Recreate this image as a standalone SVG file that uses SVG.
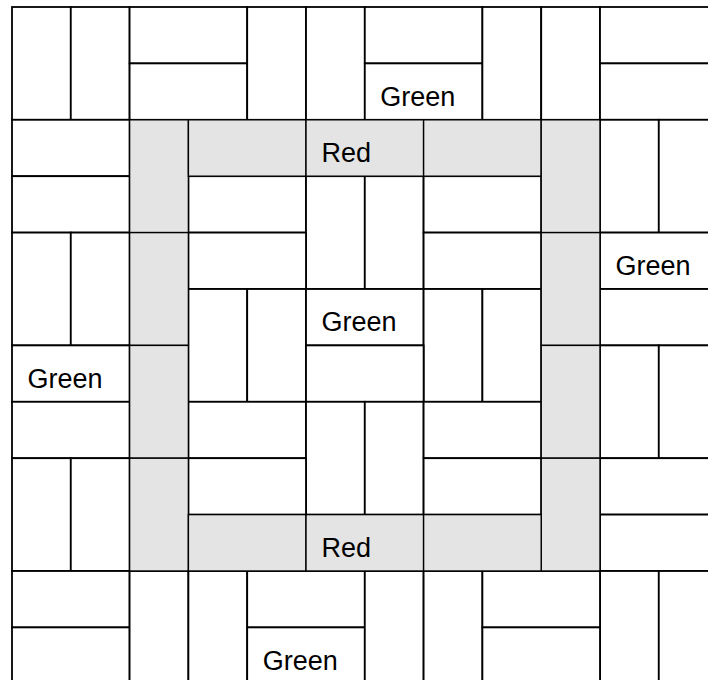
<svg xmlns="http://www.w3.org/2000/svg" width="708" height="680" viewBox="0 0 708 680">
<style>
.w{fill:#ffffff;stroke:#000000;stroke-width:1.8}
.g{fill:#e4e4e4;stroke:#000000;stroke-width:1.4}
text{font-family:"Liberation Sans",Arial,sans-serif;font-size:27px;fill:#000000}
</style>
<rect x="0" y="0" width="708" height="680" fill="#ffffff"/>
<g id="tiles-white">
<g id="t-0-0"><rect class="w" x="12" y="7" width="58.8" height="112.8"/></g>
<g id="t-1-0"><rect class="w" x="70.8" y="7" width="58.8" height="112.8"/></g>
<g id="t-2-0"><rect class="w" x="129.6" y="7" width="117.6" height="56.4"/></g>
<g id="t-2-1"><rect class="w" x="129.6" y="63.4" width="117.6" height="56.4"/></g>
<g id="t-4-0"><rect class="w" x="247.2" y="7" width="58.8" height="112.8"/></g>
<g id="t-5-0"><rect class="w" x="306" y="7" width="58.8" height="112.8"/></g>
<g id="t-6-0"><rect class="w" x="364.8" y="7" width="117.6" height="56.4"/></g>
<g id="t-6-1"><rect class="w" x="364.8" y="63.4" width="117.6" height="56.4"/><text x="380.3" y="106">Green</text></g>
<g id="t-8-0"><rect class="w" x="482.4" y="7" width="58.8" height="112.8"/></g>
<g id="t-9-0"><rect class="w" x="541.2" y="7" width="58.8" height="112.8"/></g>
<g id="t-10-0"><rect class="w" x="600" y="7" width="117.6" height="56.4"/></g>
<g id="t-10-1"><rect class="w" x="600" y="63.4" width="117.6" height="56.4"/></g>

<g id="t-0-2"><rect class="w" x="12" y="119.8" width="117.6" height="56.4"/></g>
<g id="t-0-3"><rect class="w" x="12" y="176.2" width="117.6" height="56.4"/></g>
<g id="t-0-4"><rect class="w" x="12" y="232.6" width="58.8" height="112.8"/></g>
<g id="t-1-4"><rect class="w" x="70.8" y="232.6" width="58.8" height="112.8"/></g>
<g id="t-0-6"><rect class="w" x="12" y="345.4" width="117.6" height="56.4"/><text x="27.5" y="387.8">Green</text></g>
<g id="t-0-7"><rect class="w" x="12" y="401.8" width="117.6" height="56.4"/></g>
<g id="t-0-8"><rect class="w" x="12" y="458.2" width="58.8" height="112.8"/></g>
<g id="t-1-8"><rect class="w" x="70.8" y="458.2" width="58.8" height="112.8"/></g>
<g id="t-0-10"><rect class="w" x="12" y="571" width="117.6" height="56.4"/></g>
<g id="t-0-11"><rect class="w" x="12" y="627.4" width="117.6" height="56.4"/></g>

<g id="t-10-2"><rect class="w" x="600" y="119.8" width="58.8" height="112.8"/></g>
<g id="t-11-2"><rect class="w" x="658.8" y="119.8" width="58.8" height="112.8"/></g>
<g id="t-10-4"><rect class="w" x="600" y="232.6" width="117.6" height="56.4"/><text x="615.5" y="275.2">Green</text></g>
<g id="t-10-5"><rect class="w" x="600" y="289" width="117.6" height="56.4"/></g>
<g id="t-10-6"><rect class="w" x="600" y="345.4" width="58.8" height="112.8"/></g>
<g id="t-11-6"><rect class="w" x="658.8" y="345.4" width="58.8" height="112.8"/></g>
<g id="t-10-8"><rect class="w" x="600" y="458.2" width="117.6" height="56.4"/></g>
<g id="t-10-9"><rect class="w" x="600" y="514.6" width="117.6" height="56.4"/></g>
<g id="t-10-10"><rect class="w" x="600" y="571" width="58.8" height="112.8"/></g>
<g id="t-11-10"><rect class="w" x="658.8" y="571" width="58.8" height="112.8"/></g>

<g id="t-2-10"><rect class="w" x="129.6" y="571" width="58.8" height="112.8"/></g>
<g id="t-3-10"><rect class="w" x="188.4" y="571" width="58.8" height="112.8"/></g>
<g id="t-4-10"><rect class="w" x="247.2" y="571" width="117.6" height="56.4"/></g>
<g id="t-4-11"><rect class="w" x="247.2" y="627.4" width="117.6" height="56.4"/><text x="262.7" y="670">Green</text></g>
<g id="t-6-10"><rect class="w" x="364.8" y="571" width="58.8" height="112.8"/></g>
<g id="t-7-10"><rect class="w" x="423.6" y="571" width="58.8" height="112.8"/></g>
<g id="t-8-10"><rect class="w" x="482.4" y="571" width="117.6" height="56.4"/></g>
<g id="t-8-11"><rect class="w" x="482.4" y="627.4" width="117.6" height="56.4"/></g>

<g id="t-3-3"><rect class="w" x="188.4" y="176.2" width="117.6" height="56.4"/></g>
<g id="t-5-3"><rect class="w" x="306" y="176.2" width="58.8" height="112.8"/></g>
<g id="t-6-3"><rect class="w" x="364.8" y="176.2" width="58.8" height="112.8"/></g>
<g id="t-7-3"><rect class="w" x="423.6" y="176.2" width="117.6" height="56.4"/></g>
<g id="t-3-4"><rect class="w" x="188.4" y="232.6" width="117.6" height="56.4"/></g>
<g id="t-7-4"><rect class="w" x="423.6" y="232.6" width="117.6" height="56.4"/></g>
<g id="t-3-5"><rect class="w" x="188.4" y="289" width="58.8" height="112.8"/></g>
<g id="t-4-5"><rect class="w" x="247.2" y="289" width="58.8" height="112.8"/></g>
<g id="t-5-5"><rect class="w" x="306" y="289" width="117.6" height="56.4"/><text x="321.5" y="331">Green</text></g>
<g id="t-7-5"><rect class="w" x="423.6" y="289" width="58.8" height="112.8"/></g>
<g id="t-8-5"><rect class="w" x="482.4" y="289" width="58.8" height="112.8"/></g>
<g id="t-5-6"><rect class="w" x="306" y="345.4" width="117.6" height="56.4"/></g>
<g id="t-3-7"><rect class="w" x="188.4" y="401.8" width="117.6" height="56.4"/></g>
<g id="t-5-7"><rect class="w" x="306" y="401.8" width="58.8" height="112.8"/></g>
<g id="t-6-7"><rect class="w" x="364.8" y="401.8" width="58.8" height="112.8"/></g>
<g id="t-7-7"><rect class="w" x="423.6" y="401.8" width="117.6" height="56.4"/></g>
<g id="t-3-8"><rect class="w" x="188.4" y="458.2" width="117.6" height="56.4"/></g>
<g id="t-7-8"><rect class="w" x="423.6" y="458.2" width="117.6" height="56.4"/></g>
</g>
<g id="tiles-grey">
<g id="t-2-2"><rect class="g" x="129.6" y="119.8" width="58.8" height="112.8"/></g>
<g id="t-3-2"><rect class="g" x="188.4" y="119.8" width="117.6" height="56.4"/></g>
<g id="t-5-2"><rect class="g" x="306" y="119.8" width="117.6" height="56.4"/><text x="321.5" y="162.4">Red</text></g>
<g id="t-7-2"><rect class="g" x="423.6" y="119.8" width="117.6" height="56.4"/></g>
<g id="t-9-2"><rect class="g" x="541.2" y="119.8" width="58.8" height="112.8"/></g>
<g id="t-2-4"><rect class="g" x="129.6" y="232.6" width="58.8" height="112.8"/></g>
<g id="t-9-4"><rect class="g" x="541.2" y="232.6" width="58.8" height="112.8"/></g>
<g id="t-2-6"><rect class="g" x="129.6" y="345.4" width="58.8" height="112.8"/></g>
<g id="t-9-6"><rect class="g" x="541.2" y="345.4" width="58.8" height="112.8"/></g>
<g id="t-2-8"><rect class="g" x="129.6" y="458.2" width="58.8" height="112.8"/></g>
<g id="t-9-8"><rect class="g" x="541.2" y="458.2" width="58.8" height="112.8"/></g>
<g id="t-3-9"><rect class="g" x="188.4" y="514.6" width="117.6" height="56.4"/></g>
<g id="t-5-9"><rect class="g" x="306" y="514.6" width="117.6" height="56.4"/><text x="321.5" y="557.2">Red</text></g>
<g id="t-7-9"><rect class="g" x="423.6" y="514.6" width="117.6" height="56.4"/></g>
</g>
</svg>
